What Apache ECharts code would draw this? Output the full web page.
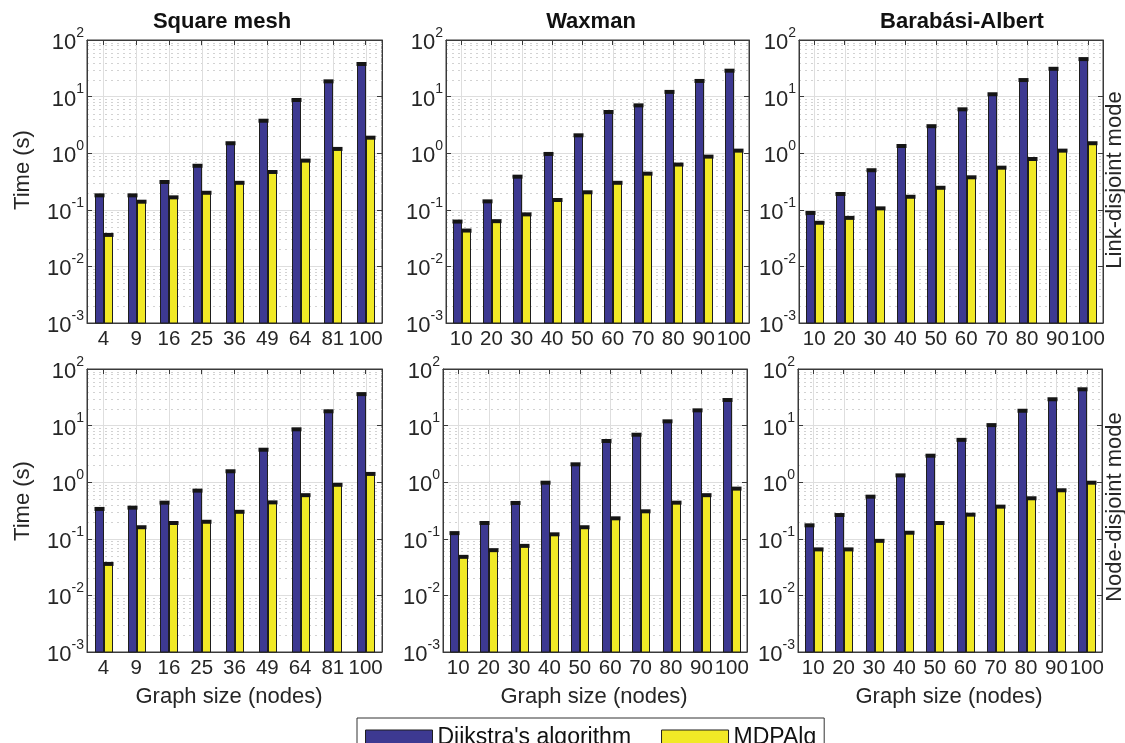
<!DOCTYPE html>
<html>
<head>
<meta charset="utf-8">
<script src="https://cdn.jsdelivr.net/npm/echarts@6/dist/echarts.min.js"></script>
<style>html,body{margin:0;padding:0;background:#fff}#c{width:1125px;height:743px}</style>
</head>
<body>
<div id="c"></div>
<script>
// ---- data ----
const meshSizes = ['4','9','16','25','36','49','64','81','100'];
const randSizes = ['10','20','30','40','50','60','70','80','90','100'];
const yTickExps = [-3, -2, -1, 0, 1, 2];

const linkMeshDijkstra = [0.18, 0.18, 0.31, 0.60, 1.50, 3.75, 8.7, 18.6, 37.7];
const linkMeshMdp      = [0.036, 0.139, 0.166, 0.20, 0.30, 0.466, 0.74, 1.19, 1.88];
const linkWaxDijkstra  = [0.062, 0.141, 0.385, 0.97, 2.07, 5.35, 7.0, 12.1, 18.9, 28.7];
const linkWaxMdp       = [0.043, 0.063, 0.083, 0.149, 0.204, 0.30, 0.435, 0.63, 0.87, 1.11];
const linkBaDijkstra   = [0.088, 0.19, 0.50, 1.34, 3.0, 5.96, 11, 19.6, 31, 46];
const linkBaMdp        = [0.059, 0.072, 0.106, 0.17, 0.245, 0.375, 0.555, 0.79, 1.11, 1.5];
const nodeMeshDijkstra = [0.337, 0.355, 0.435, 0.71, 1.56, 3.75, 8.6, 17.9, 36];
const nodeMeshMdp      = [0.036, 0.16, 0.19, 0.20, 0.30, 0.44, 0.59, 0.90, 1.40];
const nodeWaxDijkstra  = [0.126, 0.19, 0.43, 0.98, 2.07, 5.35, 6.9, 11.9, 18.6, 28.3];
const nodeWaxMdp       = [0.048, 0.063, 0.075, 0.12, 0.16, 0.23, 0.306, 0.435, 0.59, 0.77];
const nodeBaDijkstra   = [0.173, 0.263, 0.555, 1.32, 2.94, 5.6, 10.2, 18.3, 29.2, 43.8];
const nodeBaMdp        = [0.065, 0.065, 0.092, 0.128, 0.19, 0.267, 0.37, 0.52, 0.72, 0.98];

const titles = ['Square mesh', 'Waxman', 'Barabási-Albert'];
const seriesNames = ["Dijkstra's algorithm", 'MDPAlg'];

// ---- layout / style ----
const FONT = '"Liberation Sans", Arial, Helvetica, sans-serif';
const TXT = '#262626';
const C_D = '#3d3991';
const C_M = '#f1e926';
const EDGE = '#1e1e1e';
const panels = [
  {cats: meshSizes, d: linkMeshDijkstra, m: linkMeshMdp, rect: {left: 87, top: 40, width: 295, height: 283}},
  {cats: randSizes, d: linkWaxDijkstra, m: linkWaxMdp, rect: {left: 446, top: 40, width: 303, height: 283}},
  {cats: randSizes, d: linkBaDijkstra, m: linkBaMdp, rect: {left: 799, top: 40, width: 304, height: 283}},
  {cats: meshSizes, d: nodeMeshDijkstra, m: nodeMeshMdp, rect: {left: 87, top: 369, width: 295, height: 283}},
  {cats: randSizes, d: nodeWaxDijkstra, m: nodeWaxMdp, rect: {left: 443, top: 369, width: 304, height: 283}},
  {cats: randSizes, d: nodeBaDijkstra, m: nodeBaMdp, rect: {left: 798, top: 369, width: 304, height: 283}}
];

// minor gridline positions (log decades x 2..9)
const minorLines = [];
for (let e = yTickExps[0]; e < yTickExps[yTickExps.length - 1]; e++) {
  for (let k = 2; k <= 9; k++) minorLines.push([k * Math.pow(10, e)]);
}

const BAR_W = 8;
const grid = [], xAxis = [], yAxis = [], series = [];
panels.forEach((p, i) => {
  grid.push(Object.assign({show: true, borderColor: '#3a3a3a', borderWidth: 1, backgroundColor: '#fff', containLabel: false}, p.rect));
  xAxis.push({
    type: 'category', gridIndex: i, data: p.cats, position: 'bottom',
    axisLine: {lineStyle: {color: '#3a3a3a'}},
    axisTick: {show: true, inside: true, alignWithLabel: true, length: 5, lineStyle: {color: '#3a3a3a'}},
    axisLabel: {fontSize: 20.5, color: TXT, fontFamily: FONT, margin: 6, interval: 0},
    splitLine: {show: false}
  });
  xAxis.push({
    type: 'category', gridIndex: i, data: p.cats, position: 'top',
    axisLine: {lineStyle: {color: '#3a3a3a'}},
    axisTick: {show: true, inside: true, alignWithLabel: true, length: 5, lineStyle: {color: '#3a3a3a'}},
    axisLabel: {show: false}, splitLine: {show: false}
  });
  yAxis.push({
    type: 'log', logBase: 10, gridIndex: i, min: 0.001, max: 100, interval: 1,
    axisLine: {show: true, lineStyle: {color: '#3a3a3a'}},
    axisTick: {show: true, inside: true, length: 5, lineStyle: {color: '#3a3a3a'}},
    splitLine: {show: true, lineStyle: {color: '#dedede', width: 1}},
    axisLabel: {
      margin: 3, fontFamily: FONT,
      formatter: v => {
        const e = Math.round(Math.log10(v));
        return '{b|10}{s|' + e + '}';
      },
      rich: {
        b: {fontSize: 22, color: TXT, fontFamily: FONT, lineHeight: 28, verticalAlign: 'bottom'},
        s: {fontSize: 14, color: TXT, fontFamily: FONT, lineHeight: 14, verticalAlign: 'top'}
      }
    }
  });
  yAxis.push({
    type: 'log', logBase: 10, gridIndex: i, min: 0.001, max: 100, interval: 1, position: 'right',
    axisLine: {show: true, lineStyle: {color: '#3a3a3a'}},
    axisTick: {show: true, inside: true, length: 5, lineStyle: {color: '#3a3a3a'}},
    axisLabel: {show: false}, splitLine: {show: false}
  });
  const xi = i * 2, yi = i * 2;
  series.push({
    type: 'custom', name: 'minorgrid', xAxisIndex: xi, yAxisIndex: yi, silent: true, z: 0,
    data: minorLines,
    encode: {y: 0},
    renderItem: (params, api) => {
      const cs = params.coordSys;
      const y = Math.round(api.coord([0, api.value(0)])[1]) + 0.5;
      return {type: 'line', shape: {x1: cs.x, y1: y, x2: cs.x + cs.width, y2: y},
        style: {stroke: '#d2d2d2', lineWidth: 1, lineDash: [2, 4]}};
    }
  });
  series.push({
    type: 'custom', name: 'vgrid', xAxisIndex: xi, yAxisIndex: yi, silent: true, z: 0,
    data: p.cats.map((c, k) => [k, 1]),
    encode: {x: 0, y: 1},
    renderItem: (params, api) => {
      const cs = params.coordSys;
      const x = Math.round(api.coord([api.value(0), 1])[0]) + 0.5;
      return {type: 'line', shape: {x1: x, y1: cs.y, x2: x, y2: cs.y + cs.height},
        style: {stroke: '#dedede', lineWidth: 1}};
    }
  });
  [[p.d, C_D, -4.5], [p.m, C_M, 4.5]].forEach((s, j) => {
    const off = s[2];
    series.push({
      type: 'custom', name: seriesNames[j], xAxisIndex: xi, yAxisIndex: yi, z: 2,
      itemStyle: {color: s[1], borderColor: EDGE, borderWidth: 1},
      data: s[0].map((v, k) => [k, v]),
      encode: {x: 0, y: 1},
      renderItem: (params, api) => {
        const cs = params.coordSys;
        const pt = api.coord([api.value(0), api.value(1)]);
        const bottom = cs.y + cs.height;
        const x0 = Math.round(pt[0] + off - BAR_W / 2) + 0.5;
        return {
          type: 'group',
          children: [
            {type: 'rect', shape: {x: x0, y: pt[1], width: BAR_W, height: bottom - pt[1]},
              style: {fill: s[1], stroke: EDGE, lineWidth: 1}},
            {type: 'rect', shape: {x: x0 - 1, y: pt[1] - 2, width: BAR_W + 2, height: 4},
              style: {fill: '#151515'}}
          ]
        };
      }
    });
  });
});

const graphic = [];
const titleX = [222, 591, 962];
titles.forEach((t, k) => graphic.push({
  type: 'text', x: titleX[k], y: 22,
  style: {text: t, font: 'bold 22px ' + FONT, fill: '#111', align: 'center', verticalAlign: 'middle'}
}));
[170, 501].forEach(y => graphic.push({
  type: 'text', x: 23, y: y, rotation: Math.PI / 2,
  style: {text: 'Time (s)', font: '22px ' + FONT, fill: TXT, align: 'center', verticalAlign: 'middle'}
}));
[229, 594, 949].forEach(x => graphic.push({
  type: 'text', x: x, y: 697,
  style: {text: 'Graph size (nodes)', font: '22px ' + FONT, fill: TXT, align: 'center', verticalAlign: 'middle'}
}));
[['Link-disjoint mode', 180], ['Node-disjoint mode', 507]].forEach(a => graphic.push({
  type: 'text', x: 1115, y: a[1], rotation: Math.PI / 2,
  style: {text: a[0], font: '22px ' + FONT, fill: TXT, align: 'center', verticalAlign: 'middle'}
}));

const chart = echarts.init(document.getElementById('c'), null, {renderer: 'canvas'});
chart.setOption({
  animation: false,
  backgroundColor: '#fff',
  grid, xAxis, yAxis, series, graphic,
  legend: {
    data: [
      {name: seriesNames[0], itemStyle: {color: C_D, borderColor: EDGE, borderWidth: 1}},
      {name: seriesNames[1], itemStyle: {color: C_M, borderColor: EDGE, borderWidth: 1}}
    ],
    left: 357, top: 718, orient: 'horizontal',
    icon: 'rect', itemWidth: 67, itemHeight: 15, itemGap: 30,
    padding: [8, 8, 8, 8], borderColor: '#333', borderWidth: 1, backgroundColor: '#fff',
    textStyle: {fontSize: 23, color: '#111', fontFamily: FONT},
    selectedMode: false
  }
});
</script>
</body>
</html>
